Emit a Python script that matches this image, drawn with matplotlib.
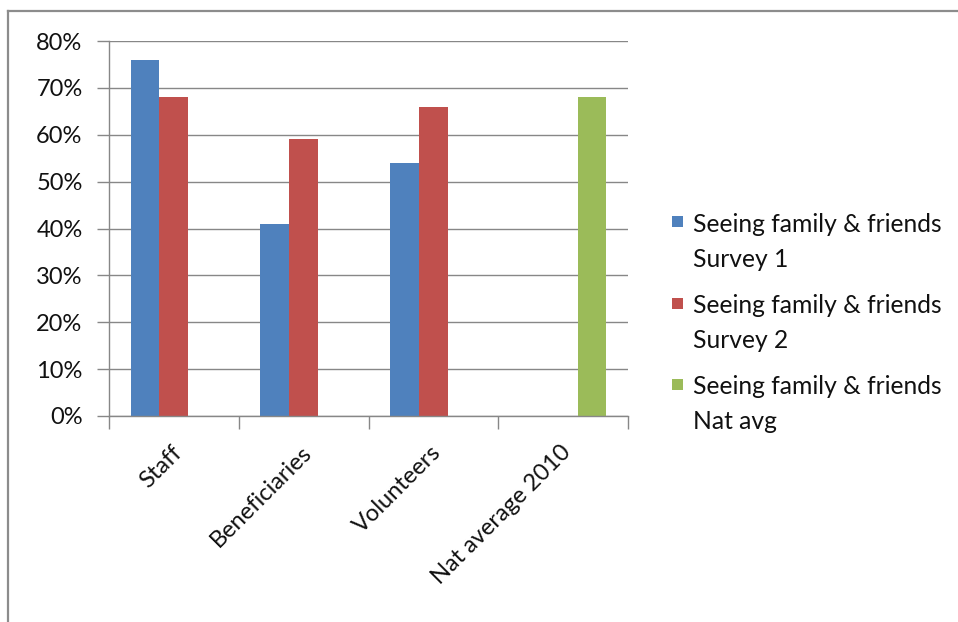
import matplotlib
matplotlib.use("Agg")
import matplotlib.pyplot as plt
import matplotlib.transforms as mtransforms
from matplotlib.lines import Line2D
from matplotlib.patches import Rectangle
import numpy as np

categories = ["Staff", "Beneficiaries", "Volunteers", "Nat average 2010"]
series_names = [
    "Seeing family & friends\nSurvey 1",
    "Seeing family & friends\nSurvey 2",
    "Seeing family & friends\nNat avg",
]
survey1 = [0.76, 0.41, 0.54, np.nan]
survey2 = [0.68, 0.59, 0.66, np.nan]
nat_avg = [np.nan, np.nan, np.nan, 0.68]
y_ticks = [0.0, 0.1, 0.2, 0.3, 0.4, 0.5, 0.6, 0.7, 0.8]

colors = ["#4F81BD", "#C0504D", "#9BBB59"]
grid_color = "#878787"
text_color = "#111111"
fsize = 17
plt.rcParams["font.family"] = ["Lato", "DejaVu Sans"]

W, H = 958, 622
fig = plt.figure(figsize=(W / 100, H / 100), dpi=100)
ax = fig.add_axes([109 / W, 1 - 416 / H, (628 - 109) / W, (416 - 41) / H])

n_series = 3
bar_w = 1.0 / (n_series + 1.5)
x = np.arange(len(categories))
for i, vals in enumerate([survey1, survey2, nat_avg]):
    offs = (i - (n_series - 1) / 2) * bar_w
    ax.bar(x + offs, vals, width=bar_w, color=colors[i], edgecolor="none", zorder=3)

ax.set_xlim(-0.5, len(categories) - 0.5)
ax.set_ylim(0, 0.8)

# y axis
ax.set_yticks(y_ticks)
ax.set_yticklabels([f"{int(round(v * 100))}%" for v in y_ticks])
ax.yaxis.grid(True, color=grid_color, linewidth=1.0, zorder=0)
ax.tick_params(axis="y", length=9, width=1, color=grid_color, pad=10,
               labelsize=fsize, labelcolor=text_color)

# x axis: ticks on category boundaries, labels at centres
ax.set_xticks(np.arange(len(categories) + 1) - 0.5)
ax.set_xticklabels([])
ax.tick_params(axis="x", which="major", length=9, width=1, color=grid_color)
ax.set_xticks(x, minor=True)
ax.set_xticklabels(categories, minor=True, rotation=45, ha="right",
                   rotation_mode="anchor", fontsize=fsize, color=text_color)
ax.tick_params(axis="x", which="minor", length=0, pad=18.5)
shift = mtransforms.ScaledTranslation(-3 / 100, 0, fig.dpi_scale_trans)
for lbl in ax.get_xticklabels(minor=True):
    lbl.set_transform(lbl.get_transform() + shift)

for side in ["top", "right"]:
    ax.spines[side].set_visible(False)
for side in ["left", "bottom"]:
    ax.spines[side].set_color(grid_color)
    ax.spines[side].set_linewidth(1.0)
    ax.spines[side].set_zorder(4)

# legend entries
for i, name in enumerate(series_names):
    yc = 222 + i * 81
    fig.add_artist(Rectangle((672 / W, 1 - (yc + 5.5) / H), 11 / W, 11 / H,
                             transform=fig.transFigure, facecolor=colors[i],
                             edgecolor="none"))
    fig.text(693 / W, 1 - (yc - 9) / H, name, ha="left", va="top",
             fontsize=17.7, color=text_color, linespacing=1.65)

# chart frame
frame_kw = dict(color="#8C8C8C", linewidth=1.6, transform=fig.transFigure)
fig.add_artist(Line2D([8 / W, 1], [1 - 11 / H, 1 - 11 / H], **frame_kw))
fig.add_artist(Line2D([8 / W, 8 / W], [1 - 11 / H, 0], **frame_kw))

fig.savefig("out.png", dpi=100, facecolor="white")
